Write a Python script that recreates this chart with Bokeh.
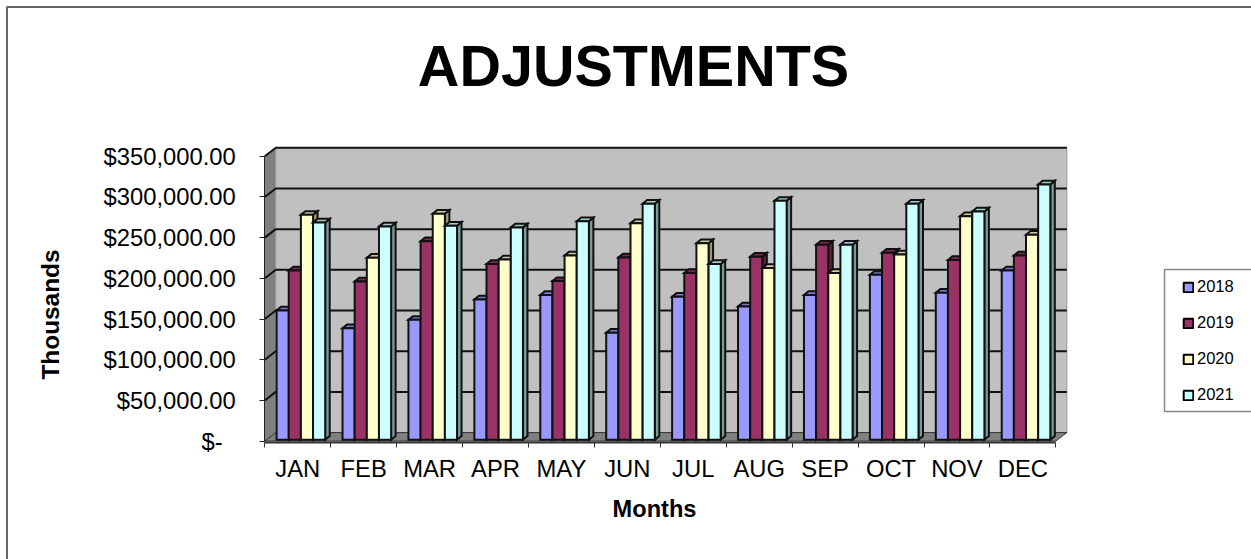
from bokeh.plotting import figure
from bokeh.embed import file_html
from bokeh.resources import INLINE
from bokeh.models import (ColumnDataSource, Range1d, FixedTicker, NumeralTickFormatter, Legend, LegendItem,
                          Label, PolyAnnotation)

months = ["JAN", "FEB", "MAR", "APR", "MAY", "JUN", "JUL", "AUG", "SEP", "OCT", "NOV", "DEC"]
years = ["2018", "2019", "2020", "2021"]
v2018 = [159, 137, 147.4, 172.4, 178, 131.5, 175.7, 163.8, 178, 202.7, 180.6, 208]
v2019 = [208, 194.5, 244, 216, 195, 224, 205, 225, 239.6, 229.8, 221, 226.4]
v2020 = [276.4, 223.6, 277.7, 221.5, 226.4, 266, 241.6, 211, 205, 227.7, 274.7, 252]
v2021 = [267, 262, 263, 261, 268.6, 290, 216, 293.6, 239.6, 290, 280.5, 313.7]
series = [v2018, v2019, v2020, v2021]
front_colors = ["#9999ff", "#993366", "#ffffcc", "#ccffff"]
top_colors = ["#7a7acc", "#7a2952", "#cccca3", "#a3cccc"]
side_colors = ["#5c5c99", "#5c1f3d", "#99997a", "#7a9999"]
y_ticks = [0, 50000, 100000, 150000, 200000, 250000, 300000, 350000]

W, H = 1251, 559
PX_X = 1 / 65.92          # x units per pixel
PX_Y = 1228.7             # y units per pixel
X0_PX, Y0_PX = 264.3, 440.6   # where x=0, y=0 fall on the page
WALL_DX, WALL_DY = 11 * PX_X, 8.5 * PX_Y
BAR_DX, BAR_DY = 4.5 * PX_X, 3.7 * PX_Y
BASE_DX, BASE_DY = 1.8 * PX_X, 1.3 * PX_Y
GAP, BW = 10.0 * PX_X, 12.15 * PX_X

p = figure(width=W, height=H, output_backend="svg", toolbar_location=None,
           x_range=Range1d(-X0_PX * PX_X, (W - X0_PX) * PX_X),
           y_range=Range1d(-(H - Y0_PX) * PX_Y, Y0_PX * PX_Y),
           min_border=0, outline_line_color=None, background_fill_color="#ffffff", tools="")
p.grid.visible = False

# legend swatches: zero-size quads, hidden beneath the walls drawn next
items = []
for i, y in enumerate(years):
    r = p.quad(left=[1], right=[1], top=[WALL_DY], bottom=[WALL_DY], fill_color=front_colors[i],
               line_color="#000000", line_width=2)
    items.append(LegendItem(label=y, renderers=[r]))

# walls and floor
top = y_ticks[-1]
p.patch([0, WALL_DX, WALL_DX, 0], [0, WALL_DY, top + WALL_DY, top], fill_color="#808080", line_color="#8c8c8c", line_width=1)
p.patch([WALL_DX, 12 + WALL_DX, 12 + WALL_DX, WALL_DX], [WALL_DY, WALL_DY, top + WALL_DY, top + WALL_DY],
        fill_color="#c0c0c0", line_color="#999999", line_width=1)
p.patch([0, 12, 12 + WALL_DX, WALL_DX], [0, 0, WALL_DY, WALL_DY], fill_color="#808080", line_color="#333333", line_width=1)
p.multi_line([[0, WALL_DX, 12 + WALL_DX] for t in y_ticks[1:]],
             [[t, t + WALL_DY, t + WALL_DY] for t in y_ticks[1:]], line_color="#111111", line_width=2)

# 3-D bars
xs, ys, fills = [], [], []
for m in range(len(months)):
    for i, vals in enumerate(series):
        x0 = m + BASE_DX + GAP + i * BW
        x1 = x0 + BW
        y0 = BASE_DY
        y1 = y0 + vals[m] * 1000
        xs.append([x1, x1 + BAR_DX, x1 + BAR_DX, x1]); ys.append([y0, y0 + BAR_DY, y1 + BAR_DY, y1]); fills.append(side_colors[i])
        xs.append([x0, x0 + BAR_DX, x1 + BAR_DX, x1]); ys.append([y1, y1 + BAR_DY, y1 + BAR_DY, y1]); fills.append(top_colors[i])
        xs.append([x0, x1, x1, x0]); ys.append([y0, y0, y1, y1]); fills.append(front_colors[i])
p.patches("xs", "ys", fill_color="fills", line_color="#111111", line_width=2, line_join="miter",
          source=ColumnDataSource(dict(xs=xs, ys=ys, fills=fills)))

# axes, placed at fixed data positions inside the full-page frame
FONT = "Liberation Sans"
xa, ya = p.xaxis[0], p.yaxis[0]
xa.fixed_location = -1.4 * PX_Y
ya.fixed_location = 0
xa.ticker = FixedTicker(ticks=[m + 0.5 for m in range(12)], minor_ticks=list(range(13)))
xa.major_label_overrides = {m + 0.5: months[m] for m in range(12)}
xa.major_tick_line_color = None
xa.major_tick_out = 0
xa.major_tick_in = 0
xa.minor_tick_out = 5
xa.minor_tick_in = 0
xa.minor_tick_line_color = "#333333"
xa.axis_line_color = "#333333"
xa.axis_line_width = 2
xa.bounds = (0, 12)
xa.major_label_standoff = 7
ya.ticker = FixedTicker(ticks=y_ticks, minor_ticks=[])
ya.formatter = NumeralTickFormatter(format="$0,0.00")
ya.major_label_overrides = {0: "$-\u00a0\u00a0"}
ya.bounds = (0, top)
ya.major_tick_out = 5
ya.major_tick_in = 0
ya.major_tick_line_color = "#222222"
ya.minor_tick_line_color = None
ya.axis_line_color = "#222222"
ya.major_label_standoff = 24
for a in (xa, ya):
    a.major_label_text_font = FONT
    a.major_label_text_font_size = "23.8px"
    a.major_label_text_color = "#000000"

# texts: pixels from the page's top-left
def add_text(text, px, py, size, angle=0):
    p.add_layout(Label(x=px, y=H - py, x_units="screen", y_units="screen", text=text, angle=angle,
                       text_font=FONT, text_font_style="bold", text_font_size=size, text_color="#000000",
                       text_align="center", text_baseline="middle"))
add_text("ADJUSTMENTS", 633, 65, "57.5px")
add_text("Months", 654, 508, "23.6px")
add_text("Thousands", 50, 314, "24.4px", angle=1.5708)

# chart frame and legend box
p.add_layout(PolyAnnotation(xs=[6.5, 6.5, 1500, 1500], ys=[1500, 6.5, 6.5, 1500], xs_units="canvas", ys_units="canvas",
                            fill_color=None, line_color="#666666", line_alpha=1, line_width=2))
p.add_layout(PolyAnnotation(xs=[1164, 1164, 1500, 1500], ys=[411, 269, 269, 411], xs_units="canvas", ys_units="canvas",
                            fill_color=None, line_color="#888888", line_alpha=1, line_width=1.5))

# legend
leg = Legend(items=items, location=(1182, H - 404), padding=10, margin=0, spacing=17,
             label_height=17, glyph_width=12, glyph_height=12, label_standoff=3, label_width=30,
             label_text_font=FONT, label_text_font_size="16.5px", label_text_color="#000000",
             background_fill_color=None, border_line_color=None)
p.add_layout(leg)

open("out.html", "w").write(file_html(p, INLINE))
